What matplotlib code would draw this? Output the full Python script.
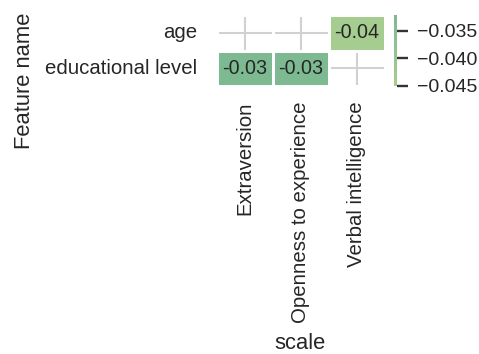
import numpy as np
import pandas as pd
import matplotlib
matplotlib.use("Agg")
import matplotlib.pyplot as plt
import seaborn as sns

rows = ["age", "educational level"]
cols = ["Extraversion", "Openness to experience", "Verbal intelligence"]
age_vals = [np.nan, np.nan, -0.045]
edu_vals = [-0.0322, -0.0325, np.nan]
cbar_ticks = [-0.045, -0.040, -0.035]

sns.set_theme(style="whitegrid")
plt.rcParams['font.family'] = ['Liberation Sans', 'DejaVu Sans']

df = pd.DataFrame([age_vals, edu_vals], index=rows, columns=cols)
df.index.name = "Feature name"
df.columns.name = "scale"

W, H = 479, 354
fig = plt.figure(figsize=(W / 100, H / 100), dpi=100)
ax = fig.add_axes([217 / W, 1 - 86 / H, 168 / W, 71 / H])
cax = fig.add_axes([394 / W, 1 - 86 / H, 3 / W, 71 / H])

sns.heatmap(df, ax=ax, cbar_ax=cax, annot=True, fmt=".2f", cmap="crest",
            center=0, linewidths=0.75, linecolor="white",
            annot_kws={"size": 14.2}, cbar_kws={"ticks": cbar_ticks})

ax.set_axisbelow(True)
ax.grid(True, color="0.82", linewidth=1.5)
for s in ax.spines.values():
    s.set_visible(False)

ax.tick_params(axis="both", length=0, labelsize=14.7, labelcolor="0.15")
ax.tick_params(axis="y", pad=14)
ax.tick_params(axis="x", pad=11)
for lbl in ax.get_xticklabels():
    lbl.set_rotation(90)
for lbl in ax.get_yticklabels():
    lbl.set_rotation(0)

ax.set_xlabel("scale", fontsize=15.8, color="0.15")
ax.set_ylabel("Feature name", fontsize=15.8, color="0.15")
ax.xaxis.set_label_coords((300 - 217) / 168, (86 - 333) / 71)
ax.yaxis.set_label_coords((35 - 217) / 168, (86 - 81) / 71)

cax.tick_params(axis="y", length=8, width=1.7, color="0.2", labelsize=14,
                labelcolor="0.15", pad=6.5, right=True)
cax.set_frame_on(False)

fig.savefig("out.png", dpi=100)
